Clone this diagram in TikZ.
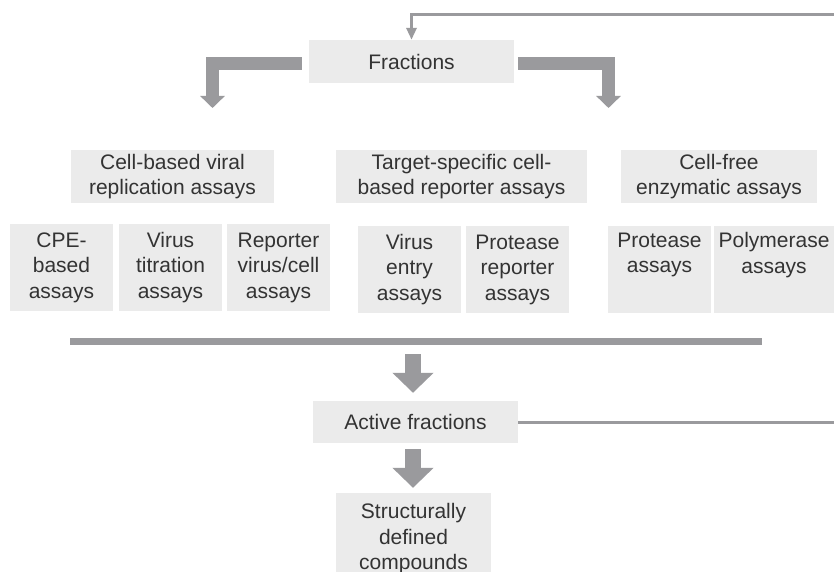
\documentclass[tikz,border=0pt]{standalone}
\usepackage{fontspec}
\setmainfont{Liberation Sans}
\usetikzlibrary{arrows.meta}
\definecolor{boxfill}{HTML}{EBEBEB}
\definecolor{arrowgray}{HTML}{9A9A9D}
\definecolor{txt}{HTML}{333333}
\begin{document}
\begin{tikzpicture}[x=1pt,y=-1pt,
  box/.style={fill=boxfill, text=txt, inner sep=0pt, align=center,
    font=\fontsize{21}{25.5}\selectfont},
  subbox/.style={box, minimum width=103pt, minimum height=87pt},
  hdrbox/.style={box, minimum height=53pt},
  thinline/.style={draw=arrowgray, line width=3pt},
  thinarrow/.style={thinline, -{Triangle[width=10pt,length=12pt]}},
  toparrow/.style={draw=arrowgray, line width=13pt, line join=miter,
    -{Triangle[width=24pt,length=12pt]}},
  downarrow/.style={draw=arrowgray, line width=16pt,
    -{Triangle[width=40pt,length=20pt]}}]
\fill[white] (0,0) rectangle (834,572);
\useasboundingbox (0,0) rectangle (834,572);

% nodes
\node[box, minimum width=205pt, minimum height=43pt] (frac) at (411.5,61.5) {Fractions};

\node[hdrbox, minimum width=203pt] (h1) at (172.5,176.5) {Cell-based viral\\replication assays};
\node[hdrbox, minimum width=251pt] (h2) at (461.5,176.5) {Target-specific cell-\\based reporter assays};
\node[hdrbox, minimum width=196pt] (h3) at (719,176.5) {Cell-free\\enzymatic assays};

\node[subbox] (s1) at (61.5,267.5) {CPE-\\based\\assays};
\node[subbox] (s2) at (170.5,267.5) {Virus\\titration\\assays};
\node[subbox] (s3) at (278.5,267.5) {Reporter\\virus/cell\\assays};
\node[subbox] (s4) at (409.5,269.5) {Virus\\entry\\assays};
\node[subbox] (s5) at (517.5,269.5) {Protease\\reporter\\assays};
\node[subbox] (s6) at (659.5,269.5) {Protease\\assays\\\strut};
\node[subbox, minimum width=120pt] (s7) at (774,269.5) {Polymerase\\assays\\\strut};

\node[box, minimum width=205pt, minimum height=42pt] (act) at (415.5,422) {Active fractions};
\node[box, minimum width=155pt, minimum height=92pt] (st) at (413.5,539) {Structurally\\defined\\compounds};

% coordinates
\coordinate (fbR) at (834,14.5);
\coordinate (acR) at (834,422);
\coordinate (sepL) at (70,341.5);
\coordinate (sepR) at (762,341.5);
\coordinate (a1s) at (413,354);
\coordinate (lt) at (212.5,108);
\coordinate (rt) at (608.5,108);

% connectors
\draw[thinarrow] (fbR) -| (frac.north);
\draw[thinline] (act.east) -- (acR);
\draw[draw=arrowgray, line width=7pt] (sepL) -- (sepR);
\draw[toparrow] ([xshift=-7pt,yshift=-2.5pt]frac.west) -| (lt);
\draw[toparrow] ([xshift=4pt,yshift=-2.5pt]frac.east) -| (rt);
\draw[downarrow, shorten >=8pt] (a1s) -- (act.north -| a1s);
\draw[downarrow, shorten <=6pt, shorten >=5pt] (act.south -| a1s) -- (st.north -| a1s);
\end{tikzpicture}
\end{document}
